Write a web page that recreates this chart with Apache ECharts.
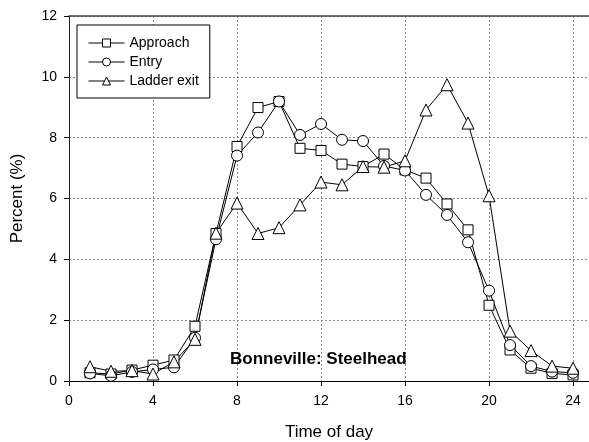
<!DOCTYPE html>
<html>
<head>
<meta charset="utf-8">
<script src="https://cdn.jsdelivr.net/npm/echarts@6/dist/echarts.min.js"></script>
<style>
  html, body { margin: 0; padding: 0; background: #fff; }
  #chart { width: 589px; height: 442px; }
</style>
</head>
<body>
<div id="chart"></div>
<script>
// hour of day
const hours = [1, 2, 3, 4, 5, 6, 7, 8, 9, 10, 11, 12, 13, 14, 15, 16, 17, 18, 19, 20, 21, 22, 23, 24]
// percent of fish per hour
const approach = [0.27, 0.23, 0.36, 0.52, 0.69, 1.8, 4.85, 7.71, 8.99, 9.19, 7.65, 7.58, 7.13, 7.05, 7.46, 6.94, 6.67, 5.82, 4.97, 2.49, 1.02, 0.42, 0.25, 0.2]
const entry = [0.25, 0.17, 0.3, 0.38, 0.45, 1.42, 4.66, 7.41, 8.17, 9.19, 8.09, 8.45, 7.93, 7.89, 7.07, 6.92, 6.12, 5.46, 4.56, 2.97, 1.18, 0.49, 0.31, 0.27]
const ladderExit = [0.47, 0.32, 0.34, 0.23, 0.63, 1.37, 4.86, 5.85, 4.85, 5.04, 5.79, 6.54, 6.45, 7.05, 7.03, 7.24, 8.91, 9.74, 8.48, 6.09, 1.64, 1.0, 0.49, 0.42]
const xTicks = [0, 4, 8, 12, 16, 20, 24]
const yTicks = [0, 2, 4, 6, 8, 10, 12]

const font = 'Liberation Sans, Arial, sans-serif'
const myChart = echarts.init(document.getElementById('chart'))

function pairs(ys) {
  return hours.map((h, i) => [h, ys[i]])
}

function lineSeries(name, ys, symbol, size) {
  return {
    name: name,
    type: 'line',
    data: pairs(ys),
    symbol: symbol,
    symbolSize: size,
    showAllSymbol: true,
    lineStyle: { color: '#000', width: 1 },
    itemStyle: { color: '#fff', borderColor: '#000', borderWidth: 1 },
    emphasis: { disabled: true },
    animation: false
  }
}

const gridLine = { show: true, lineStyle: { color: '#8a8a8a', type: [2, 2], width: 1 } }

const options = {
  backgroundColor: '#fff',
  textStyle: { fontFamily: font },
  // the plot runs past the right edge of the picture, so no right border
  grid: {
    left: 69,
    top: 16,
    right: 0,
    bottom: 61,
    containLabel: false,
    outerBoundsMode: 'none'
  },
  legend: {
    orient: 'vertical',
    left: 77,
    top: 25,
    padding: [11, 11, 10, 11],
    itemGap: 5,
    itemWidth: 36,
    itemHeight: 10,
    borderColor: '#000',
    borderWidth: 1,
    backgroundColor: '#fff',
    lineStyle: { width: 1 },
    itemStyle: { borderWidth: 1 },
    textStyle: { color: '#000', fontSize: 14, fontFamily: font },
    data: ['Approach', 'Entry', 'Ladder exit']
  },
  xAxis: [
    {
      type: 'value',
      min: 0,
      max: 24.76,
      interval: 4,
      name: 'Time of day',
      nameLocation: 'middle',
      nameGap: 43,
      nameTextStyle: { color: '#000', fontSize: 17, fontFamily: font },
      axisLine: { lineStyle: { color: '#000', width: 1 } },
      axisTick: { show: true, length: 5, lineStyle: { color: '#000' } },
      axisLabel: {
        color: '#000', fontSize: 14, margin: 13, fontFamily: font,
        showMaxLabel: false,
        formatter: v => (xTicks.indexOf(v) >= 0 ? String(v) : '')
      },
      splitLine: gridLine
    },
    {
      // top frame line only
      type: 'value',
      position: 'top',
      min: 0,
      max: 24.76,
      axisLine: { show: true, onZero: false, lineStyle: { color: '#444', width: 1.5 } },
      axisTick: { show: false },
      axisLabel: { show: false },
      splitLine: { show: false }
    }
  ],
  yAxis: {
    type: 'value',
    min: 0,
    max: 12,
    interval: 2,
    name: 'Percent (%)',
    nameLocation: 'middle',
    nameGap: 43,
    nameTextStyle: { color: '#000', fontSize: 17, fontFamily: font },
    axisLine: { show: true, lineStyle: { color: '#222', width: 1 } },
    axisTick: { show: true, length: 5, lineStyle: { color: '#000' } },
    axisLabel: {
      color: '#000', fontSize: 14, margin: 12, fontFamily: font,
      formatter: v => (yTicks.indexOf(v) >= 0 ? String(v) : '')
    },
    splitLine: gridLine
  },
  graphic: [
    {
      type: 'text',
      left: 230,
      top: 351,
      z: 100,
      style: {
        text: 'Bonneville: Steelhead',
        font: 'bold 17px ' + font,
        fill: '#000'
      }
    }
  ],
  series: [
    lineSeries('Approach', approach, 'rect', 10),
    lineSeries('Entry', entry, 'circle', 11),
    lineSeries('Ladder exit', ladderExit, 'triangle', 12)
  ]
}
myChart.setOption(options)
</script>
</body>
</html>
